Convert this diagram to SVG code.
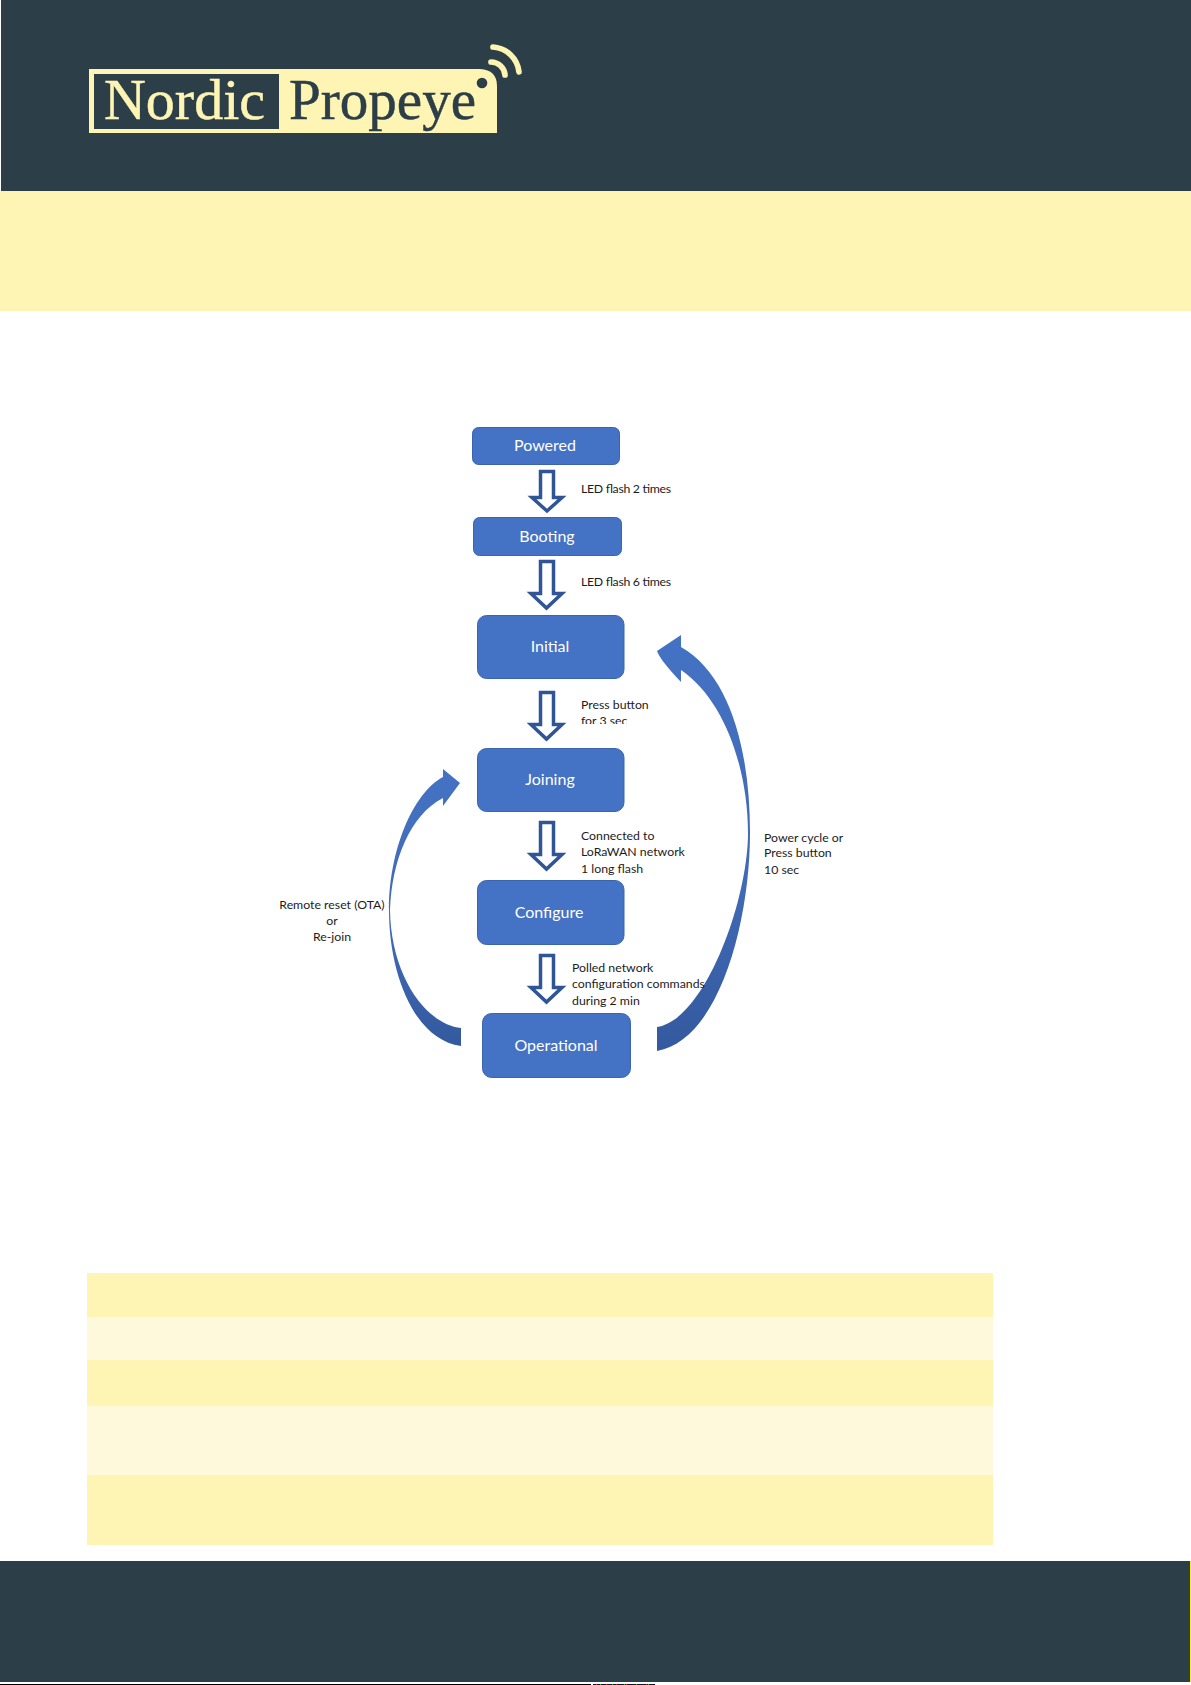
<svg xmlns="http://www.w3.org/2000/svg" width="1191" height="1685" viewBox="0 0 1191 1685">
<defs>
<style>
.node{fill:#4472C4;stroke:#3A64AE;stroke-width:1}
.nt{font-family:"Lato","Open Sans",sans-serif;font-size:16px;fill:#fff;text-anchor:middle}
.lb{font-family:"Lato","Open Sans",sans-serif;font-size:12.3px;fill:#1c1c1c}
.hollow{fill:#fff;stroke:#2F5597;stroke-width:3.5}
.logo{font-family:"Liberation Serif",serif;font-size:56px;stroke-width:.5}
</style>
<linearGradient id="curve" x1="0" y1="0" x2="0" y2="1"><stop offset="0" stop-color="#4472C4"/><stop offset="0.6" stop-color="#4169B5"/><stop offset="1" stop-color="#335A9E"/></linearGradient>
<clipPath id="cut"><rect x="575" y="710" width="90" height="14"/></clipPath>
</defs>
<rect width="1191" height="1685" fill="#fff"/>
<rect x="1" y="0" width="1190" height="191" fill="#2C3E47"/>
<rect x="0" y="191" width="1191" height="120" fill="#FEF4B3"/>
<g id="logo">
<path d="M89,69H480Q497,70 497,86V133H89Z" fill="#FEF4B3"/>
<rect x="94" y="74" width="185" height="55" fill="#2C3E47"/>
<text class="logo" x="104" y="118.500" fill="#FEF4B3" stroke="#FEF4B3" textLength="161" lengthAdjust="spacingAndGlyphs">Nordic</text>
<text class="logo" x="289" y="118.500" fill="#2C3E47" stroke="#2C3E47" textLength="187" lengthAdjust="spacingAndGlyphs">Propeye</text>
<circle cx="482" cy="83" r="5.300" fill="#2C3E47"/>
<path d="M491,62A14,14 0 0 1 505,75M493,47A28,28 0 0 1 519,72" fill="none" stroke="#FEF4B3" stroke-width="5.700" stroke-linecap="round"/>
</g>
<g id="connectors">
<path class="hollow" d="M540.500,471.500H553.500V497.500H562L547,511L532,497.500H540.500Z"/>
<path class="hollow" d="M540.500,561.500H553.500V593.500H562L546.500,608L531,593.500H540.500Z"/>
<path class="hollow" d="M540.500,692.500H553.500V724.500H562L546.500,739L531,724.500H540.500Z"/>
<path class="hollow" d="M540.500,822.500H553.500V854.500H562L546.500,869L531,854.500H540.500Z"/>
<path class="hollow" d="M540.500,955.500H553.500V987.500H562L546.500,1002L531,987.500H540.500Z"/>
<path fill="url(#curve)" d="M443,777V769L460,783L443,806V798C410,815 392,860 390,910C391,975 425,1024 461,1028V1046C415,1040 389,975 389,910C389,850 413,793 443,777Z"/>
<path fill="url(#curve)" d="M681,647V635L657,651Q660,660 681,682V670C725,700 748,770 748,833C748,900 705,1020 657,1027V1051C720,1040 750,920 750,833C750,750 730,675 681,647Z"/>
</g>
<g id="powered"><rect class="node" x="472.500" y="427.500" width="147" height="37" rx="6"/><text class="nt" x="545" y="451">Powered</text></g>
<g id="booting"><rect class="node" x="473.500" y="517.500" width="148" height="38" rx="6"/><text class="nt" x="547" y="542">Booting</text></g>
<g id="initial"><rect class="node" x="477.500" y="615.500" width="146.500" height="63" rx="9"/><text class="nt" x="550" y="652">Initial</text></g>
<g id="joining"><rect class="node" x="477.500" y="748.500" width="146.500" height="63" rx="9"/><text class="nt" x="550" y="785">Joining</text></g>
<g id="configure"><rect class="node" x="477.500" y="880.500" width="146.500" height="64" rx="9"/><text class="nt" x="549" y="918">Configure</text></g>
<g id="operational"><rect class="node" x="482.500" y="1013.500" width="148" height="64" rx="9"/><text class="nt" x="556" y="1051">Operational</text></g>
<g id="labels">
<text class="lb" x="581" y="493" textLength="90">LED flash 2 times</text>
<text class="lb" x="581" y="586" textLength="90">LED flash 6 times</text>
<text class="lb" x="581" y="709">Press button</text>
<text class="lb" x="581" y="724.500" clip-path="url(#cut)">for 3 sec</text>
<text class="lb" x="581" y="840">Connected to</text>
<text class="lb" x="581" y="856">LoRaWAN network</text>
<text class="lb" x="581" y="873">1 long flash</text>
<text class="lb" x="572" y="972">Polled network</text>
<text class="lb" x="572" y="988">configuration commands</text>
<text class="lb" x="572" y="1005">during 2 min</text>
<text class="lb" x="764" y="842">Power cycle or</text>
<text class="lb" x="764" y="857">Press button</text>
<text class="lb" x="764" y="874">10 sec</text>
<text class="lb" x="332" y="909" text-anchor="middle">Remote reset (OTA)</text>
<text class="lb" x="332" y="925" text-anchor="middle">or</text>
<text class="lb" x="332" y="941" text-anchor="middle">Re-join</text>
</g>
<g id="table">
<rect x="87" y="1273" width="906" height="44" fill="#FEF4B3"/>
<rect x="87" y="1317" width="906" height="43" fill="#FFF9DC"/>
<rect x="87" y="1360" width="906" height="46" fill="#FEF4B3"/>
<rect x="87" y="1406" width="906" height="69" fill="#FFF9DC"/>
<rect x="87" y="1475" width="906" height="70" fill="#FEF4B3"/>
</g>
<rect x="0" y="1561" width="1190" height="121" fill="#2C3E47"/>
<rect x="1190" y="1561" width="1" height="121" fill="#FFF200"/>
<rect x="0" y="1684" width="591" height="1" fill="#000"/>
<rect x="593" y="1684" width="62" height="1" fill="#113"/>
<path d="M596,1684.500H655" stroke="#c22" stroke-width="1" stroke-dasharray="1 9" fill="none"/>
<path d="M600,1684.500H655" stroke="#2a2" stroke-width="1" stroke-dasharray="1 11" fill="none"/>
</svg>
